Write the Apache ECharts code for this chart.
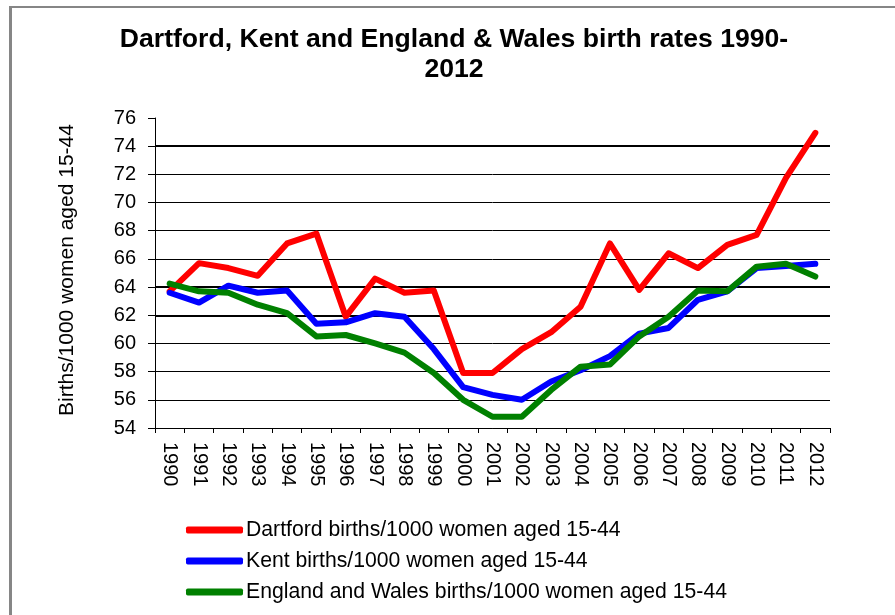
<!DOCTYPE html>
<html>
<head>
<meta charset="utf-8">
<script src="https://cdn.jsdelivr.net/npm/echarts@6/dist/echarts.min.js"></script>
<style>
html,body{margin:0;padding:0;background:#fff;}
#chart{width:895px;height:615px;}
</style>
</head>
<body>
<div id="chart"></div>
<script>
const years = ['1990','1991','1992','1993','1994','1995','1996','1997','1998','1999','2000','2001','2002','2003','2004','2005','2006','2007','2008','2009','2010','2011','2012'];
const dartford = [63.7,65.7,65.35,64.8,67.1,67.8,61.9,64.6,63.6,63.75,57.9,57.9,59.6,60.8,62.6,67.1,63.8,66.4,65.35,67.0,67.7,71.75,74.95];
const kent = [63.6,62.9,64.1,63.6,63.75,61.4,61.5,62.15,61.9,59.6,56.9,56.35,56.0,57.3,58.1,59.1,60.7,61.1,63.1,63.7,65.35,65.5,65.65];
const englandWales = [64.25,63.7,63.6,62.75,62.15,60.5,60.6,60.0,59.35,57.9,56.0,54.8,54.8,56.7,58.35,58.5,60.5,61.9,63.75,63.7,65.45,65.65,64.75];
const seriesNames = ['Dartford births/1000 women aged 15-44','Kent births/1000 women aged 15-44','England and Wales births/1000 women aged 15-44'];
const titleText = 'Dartford, Kent and England & Wales birth rates 1990-\n2012';
const yAxisName = 'Births/1000 women aged 15-44';
const heavyGrid = [74, 64, 62];

const font = 'Liberation Sans, Arial, sans-serif';
const chart = echarts.init(document.getElementById('chart'), null, {renderer:'canvas'});
const gridColors = [];
for (let v = 54; v <= 76; v += 2) gridColors.push(v === 76 ? 'rgba(0,0,0,0)' : '#000');

const lineSeries = (name, data, color, extra) => Object.assign({
  name: name, type: 'line', data: data, showSymbol: false, symbol: 'none',
  lineStyle: {color: color, width: 6, cap: 'round', join: 'round'},
  itemStyle: {color: color}, animation: false, z: 3
}, extra || {});

chart.setOption({
  animation: false,
  backgroundColor: '#fff',
  title: {
    text: titleText, left: 449, textAlign: 'center', top: 20,
    textStyle: {fontFamily: font, fontWeight: 'bold', fontSize: 26.6, lineHeight: 30, color: '#000'}
  },
  graphic: [
    {type: 'line', shape: {x1: 10, y1: 7, x2: 895, y2: 7}, style: {stroke: '#868686', lineWidth: 2}},
    {type: 'line', shape: {x1: 10.5, y1: 6, x2: 10.5, y2: 615}, style: {stroke: '#868686', lineWidth: 3}}
  ],
  grid: {left: 155, right: 65, top: 118, bottom: 187, containLabel: false},
  legend: {
    orient: 'vertical', left: 181, top: 514, itemWidth: 57, itemHeight: 7, itemGap: 9,
    icon: 'roundRect',
    textStyle: {fontFamily: font, fontSize: 21.2, color: '#000', lineHeight: 22, padding: [0,0,0,-2]},
    data: seriesNames
  },
  xAxis: {
    type: 'category', data: years, boundaryGap: true,
    axisLine: {lineStyle: {color: '#000', width: 1}},
    axisTick: {show: true, length: 5, lineStyle: {color: '#000'}},
    axisLabel: {rotate: -90, fontFamily: font, fontSize: 20, color: '#000', margin: 14, interval: 0}
  },
  yAxis: {
    type: 'value', min: 54, max: 76, interval: 2,
    name: yAxisName, nameLocation: 'middle', nameGap: 77,
    nameTextStyle: {fontFamily: font, fontSize: 21, color: '#000', padding: [0,0,0,6]},
    axisLine: {show: true, lineStyle: {color: '#000', width: 1}},
    axisTick: {show: true, length: 7, lineStyle: {color: '#000'}},
    axisLabel: {fontFamily: font, fontSize: 20, color: '#000', margin: 19},
    splitLine: {show: true, lineStyle: {color: gridColors, width: 1}}
  },
  series: [
    lineSeries(seriesNames[0], dartford, '#FF0000', {
      markLine: {silent: true, symbol: 'none', label: {show: false}, z: 1,
        lineStyle: {color: '#000', width: 2, type: 'solid'},
        data: heavyGrid.map(v => ({yAxis: v}))}
    }),
    lineSeries(seriesNames[1], kent, '#0000FF'),
    lineSeries(seriesNames[2], englandWales, '#008000')
  ]
});
</script>
</body>
</html>
